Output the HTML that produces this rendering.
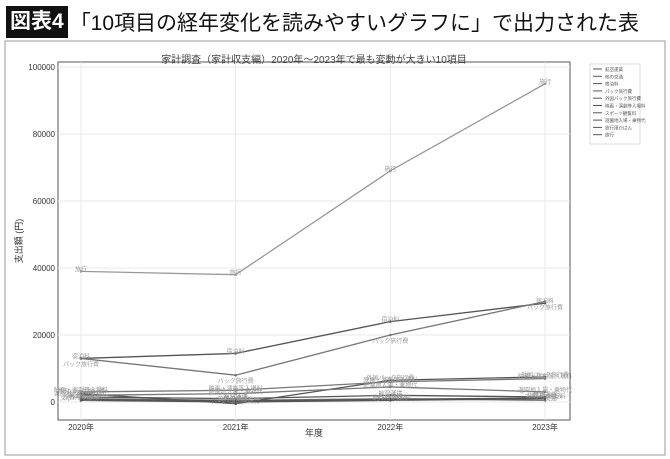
<!DOCTYPE html>
<html><head><meta charset="utf-8"><style>
body{margin:0;width:670px;height:459px;background:#fff;overflow:hidden;font-family:"Liberation Sans","Noto Sans CJK JP",sans-serif}
#hdr{position:absolute;left:6px;top:6px;height:32px;display:flex;align-items:center}
#tag{background:#111;color:#fff;font-size:21px;padding:0 4px;height:32px;line-height:32px;font-weight:bold}
#ttl{font-size:21px;color:#111;margin-left:2px;font-weight:normal}
svg{position:absolute;left:0;top:0}
</style></head><body>
<div id="hdr"><span id="tag">図表4</span><span id="ttl">「10項目の経年変化を読みやすいグラフに」で出力された表</span></div>
<svg id="c" width="670" height="459"></svg>
<script>
const years=["2020年","2021年","2022年","2023年"];
const names=["航空運賃","他の交通","宿泊料","パック旅行費","外国パック旅行費","映画・演劇等入場料","スポーツ観覧料","遊園地入場・乗物代","旅行用かばん","旅行"];
const s0=[1500,1000,2000,1500];
const s1=[1000,500,1000,500];
const s2=[13000,14500,24000,29500];
const s3=[13000,8000,20000,30000];
const s4=[2500,-500,6500,7500];
const s5=[3000,3500,6000,7000];
const s6=[500,0,500,1000];
const s7=[2000,2500,4500,3000];
const s8=[800,300,800,1200];
const s9=[39000,38000,69000,95000];
const series=[s0,s1,s2,s3,s4,s5,s6,s7,s8,s9];
const yTicks=[0,20000,40000,60000,80000,100000];
const NS="http://www.w3.org/2000/svg";
const svg=document.getElementById('c');
const X0=58,X1=570,Y0=420,Y1=62;
const xs=i=>81+i*(545-81)/3;
const ys=v=>402-v*(402-67)/100000;
function mk(t,a,p){const e=document.createElementNS(NS,t);for(const k in a)e.setAttribute(k,a[k]);(p||svg).appendChild(e);return e;}
let e;
e=mk('rect',{x:5,y:41,width:660,height:414,fill:'none',stroke:'#999','stroke-width':1});


e=mk('rect',{x:X0,y:Y1,width:X1-X0,height:Y0-Y1,fill:'none',stroke:'#555','stroke-width':1});


e=mk('text',{x:314,y:63,'font-size':10,fill:'#444','text-anchor':'middle'});e.textContent='家計調査（家計収支編）2020年〜2023年で最も変動が大きい10項目';


yTicks.forEach(v=>{
 e=mk('line',{x1:X0,x2:X1,y1:ys(v),y2:ys(v),stroke:'#e8e8e8'});
 
 
 e=mk('text',{x:X0-3,y:ys(v)+3,'font-size':8,fill:'#333','text-anchor':'end'});e.textContent=v;
 
 
});
years.forEach((y,i)=>{
 e=mk('line',{x1:xs(i),x2:xs(i),y1:Y1,y2:Y0,stroke:'#e8e8e8'});
 
 
 e=mk('text',{x:xs(i),y:Y0+10,'font-size':8,fill:'#333','text-anchor':'middle'});e.textContent=y;
 
 
});
e=mk('text',{x:314,y:436,'font-size':9,fill:'#333','text-anchor':'middle'});e.textContent='年度';


e=mk('text',{x:22,y:241,'font-size':9,fill:'#333','text-anchor':'middle',transform:'rotate(-90 22 241)'});e.textContent='支出額 (円)';


series.forEach((s,k)=>{
 const col=k===9?'#999':(k%2?'#777':'#555');
 e=mk('polyline',{points:s.map((v,i)=>xs(i)+','+ys(v)).join(' '),fill:'none',stroke:col,'stroke-width':1.3});
 
 
 s.forEach((v,i)=>{
  e=mk('circle',{cx:xs(i),cy:ys(v),r:1.3,fill:col});
  
  
  e=mk('text',{x:xs(i),y:ys(v)+(k===3?8:0),'font-size':6,fill:'#999','text-anchor':'middle'});e.textContent=names[k];
  
  
 });
});
e=mk('rect',{x:590,y:64,width:50,height:80,fill:'#fff',stroke:'#ddd'});


names.forEach((n,k)=>{
 const y=69+k*7.3;
 e=mk('line',{x1:593,x2:602,y1:y,y2:y,stroke:'#555'});
 
 
 e=mk('text',{x:605,y:y+2,'font-size':4.5,fill:'#555'});e.textContent=n;
 
 
});
</script>
</body></html>
